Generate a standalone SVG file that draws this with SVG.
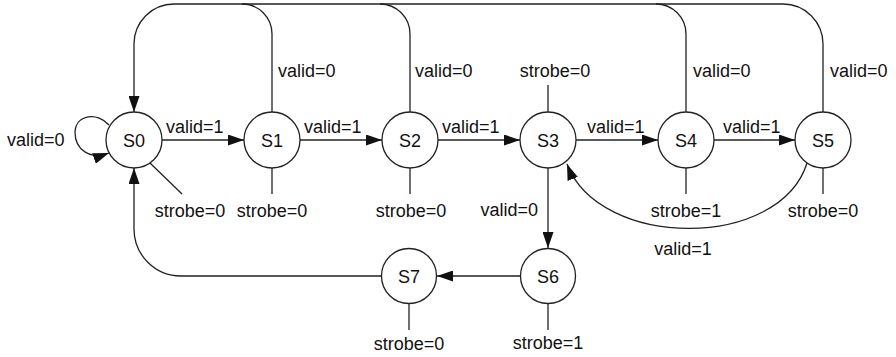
<svg xmlns="http://www.w3.org/2000/svg" width="896" height="357" viewBox="0 0 896 357">
<defs>
<marker id="arr" markerUnits="userSpaceOnUse" markerWidth="16" markerHeight="11" refX="16" refY="5.5" orient="auto">
<path d="M0,0 L16,5.5 L0,11 z" fill="#111"/>
</marker>
<style>
.st{fill:#fff;stroke:#222;stroke-width:1.3}
.ln{fill:none;stroke:#222;stroke-width:1.3}
text{font-family:"Liberation Sans",Arial,sans-serif;font-size:18px;fill:#111}
.c{text-anchor:middle}
.e{text-anchor:end}
</style>
</defs>
<rect width="896" height="357" fill="#fff"/>
<g id="connectors">
<path class="ln" d="M823,112 V44 A40,40 0 0 0 783,4 H174 A40,40 0 0 0 134,44 V112" marker-end="url(#arr)"/>
<path class="ln" d="M272,112 V34 A30,30 0 0 0 242,4"/>
<path class="ln" d="M410,112 V34 A30,30 0 0 0 380,4"/>
<path class="ln" d="M686,112 V34 A30,30 0 0 0 656,4"/>
<path class="ln" d="M109,125 C98,112 76,114 75,132 C75,150 90,160 109,153" marker-end="url(#arr)"/>
<path class="ln" d="M162,140 H244" marker-end="url(#arr)"/>
<path class="ln" d="M300,140 H382" marker-end="url(#arr)"/>
<path class="ln" d="M438,140 H520" marker-end="url(#arr)"/>
<path class="ln" d="M576,140 H658" marker-end="url(#arr)"/>
<path class="ln" d="M714,140 H795" marker-end="url(#arr)"/>
<path class="ln" d="M807,163 C780,250 600,250 567,164" marker-end="url(#arr)"/>
<path class="ln" d="M548,168 V248" marker-end="url(#arr)"/>
<path class="ln" d="M521,276 H437" marker-end="url(#arr)"/>
<path class="ln" d="M382,276 H181 A47,47 0 0 1 134,229 V168" marker-end="url(#arr)"/>
<path class="ln" d="M150,163 L182,194"/>
<path class="ln" d="M272,168 V194"/>
<path class="ln" d="M410,168 V194"/>
<path class="ln" d="M548,112 V85"/>
<path class="ln" d="M686,168 V194"/>
<path class="ln" d="M823,168 V194"/>
<path class="ln" d="M409,303 V330"/>
<path class="ln" d="M548,303 V330"/>
<text x="7" y="146">valid=0</text>
<text x="166" y="133">valid=1</text>
<text x="304" y="133">valid=1</text>
<text x="442" y="133">valid=1</text>
<text x="587" y="133">valid=1</text>
<text x="723" y="133">valid=1</text>
<text x="278" y="77">valid=0</text>
<text x="415" y="77">valid=0</text>
<text x="693" y="77">valid=0</text>
<text x="830" y="77">valid=0</text>
<text class="c" x="555" y="77">strobe=0</text>
<text class="c" x="190" y="217">strobe=0</text>
<text class="c" x="272" y="217">strobe=0</text>
<text class="c" x="411" y="217">strobe=0</text>
<text class="c" x="686" y="217">strobe=1</text>
<text class="c" x="823" y="217">strobe=0</text>
<text class="e" x="538" y="216">valid=0</text>
<text class="c" x="683" y="255">valid=1</text>
<text class="c" x="409" y="350">strobe=0</text>
<text class="c" x="548" y="349">strobe=1</text>
</g>
<g id="S0"><circle class="st" cx="134" cy="140" r="28"/><text class="c" x="134" y="146.5">S0</text></g>
<g id="S1"><circle class="st" cx="272" cy="140" r="28"/><text class="c" x="272" y="146.5">S1</text></g>
<g id="S2"><circle class="st" cx="410" cy="140" r="28"/><text class="c" x="410" y="146.5">S2</text></g>
<g id="S3"><circle class="st" cx="548" cy="140" r="28"/><text class="c" x="548" y="146.5">S3</text></g>
<g id="S4"><circle class="st" cx="686" cy="140" r="28"/><text class="c" x="686" y="146.5">S4</text></g>
<g id="S5"><circle class="st" cx="823" cy="140" r="28"/><text class="c" x="823" y="146.5">S5</text></g>
<g id="S6"><circle class="st" cx="548" cy="276" r="27.5"/><text class="c" x="548" y="282.5">S6</text></g>
<g id="S7"><circle class="st" cx="409" cy="276" r="27.5"/><text class="c" x="409" y="282.5">S7</text></g>
</svg>
